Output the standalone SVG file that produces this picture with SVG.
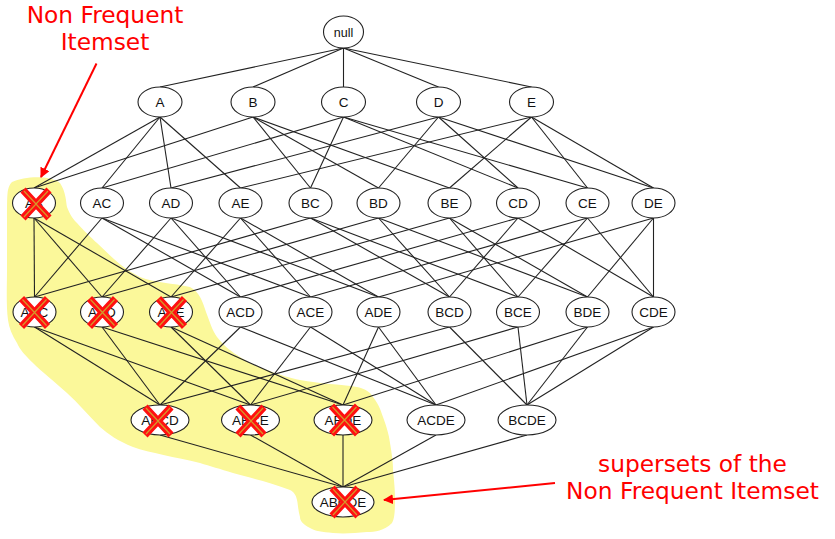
<svg xmlns="http://www.w3.org/2000/svg" xmlns:xlink="http://www.w3.org/1999/xlink" width="835" height="539" viewBox="0 0 835 539">
<style>
.n ellipse{fill:#fff;stroke:#222;stroke-width:1.1}
.n text{font-family:"Liberation Sans",Arial,sans-serif;font-size:13.5px;fill:#111;text-anchor:middle}
#edges line{stroke:#222;stroke-width:1.1}
.ann{font-family:"DejaVu Sans",Verdana,sans-serif;font-size:23.3px;fill:#ff0000;text-anchor:middle}
.arr{stroke:#ff0000;stroke-width:2;fill:none}
</style>
<defs>
<marker id="ah" viewBox="0 0 10 10" refX="9" refY="5" markerWidth="5" markerHeight="5" orient="auto" markerUnits="strokeWidth">
<path d="M0,0 L10,5 L0,10 z" fill="#ff0000"/>
</marker>
<g id="x">
<path d="M-13,-14 L13,14 M13,-14 L-13,14" stroke="#ff1010" stroke-width="7" stroke-linecap="butt"/>
<path d="M-12,-13 L12,13 M12,-13 L-12,13" stroke="#d49a2a" stroke-width="1.2"/>
</g>
</defs>
<rect width="835" height="539" fill="#fff"/>
<path id="highlight" fill="#fbf89a" d="M12,182 C25,176 50,175 60,183 C66,192 66,202 67,207 C70,215 73,219 77,223 C85,232 97,243 97,243 C110,255 120,267 140,277 C155,283 173,283 190,287 C200,292 203,303 206,312 C210,322 212,330 217,337 C225,347 232,352 240,357 C250,364 258,367 267,370 C280,375 290,378 300,380 C320,384 340,384 357,387 C366,389 370,392 373,397 C380,406 381,412 383,417 C387,428 389,435 390,443 C392,455 393,463 393,470 C394,480 395,490 395,497 C395,508 395,518 392,523 C384,531 375,532 367,532 C355,533 345,534 333,533 C322,532 315,531 310,528 C302,524 300,520 300,517 C298,510 298,504 297,500 C296,495 294,492 290,490 C270,482 250,478 233,473 C220,469 210,466 200,463 C175,457 150,453 133,447 C118,441 108,434 100,427 C88,415 78,403 67,393 C55,382 42,372 33,363 C25,355 20,350 17,343 C12,335 9,328 8,320 C6,305 7,285 7,270 C7,250 7,235 7,220 C7,205 7,195 8,190 C9,186 10,184 12,182 Z"/>
<g id="edges">
<line x1="343.5" y1="48" x2="160" y2="87"/><line x1="343.5" y1="48" x2="253" y2="87"/><line x1="343.5" y1="48" x2="343.5" y2="87"/><line x1="343.5" y1="48" x2="438.5" y2="87"/><line x1="343.5" y1="48" x2="531.5" y2="87"/>
<line x1="160" y1="117" x2="34" y2="188"/><line x1="160" y1="117" x2="102" y2="188"/><line x1="160" y1="117" x2="171" y2="188"/><line x1="160" y1="117" x2="240.5" y2="188"/>
<line x1="253" y1="117" x2="34" y2="188"/><line x1="253" y1="117" x2="310.5" y2="188"/><line x1="253" y1="117" x2="378.5" y2="188"/><line x1="253" y1="117" x2="449.5" y2="188"/>
<line x1="343.5" y1="117" x2="102" y2="188"/><line x1="343.5" y1="117" x2="310.5" y2="188"/><line x1="343.5" y1="117" x2="518" y2="188"/><line x1="343.5" y1="117" x2="587.5" y2="188"/>
<line x1="438.5" y1="117" x2="171" y2="188"/><line x1="438.5" y1="117" x2="378.5" y2="188"/><line x1="438.5" y1="117" x2="518" y2="188"/><line x1="438.5" y1="117" x2="653.5" y2="188"/>
<line x1="531.5" y1="117" x2="240.5" y2="188"/><line x1="531.5" y1="117" x2="449.5" y2="188"/><line x1="531.5" y1="117" x2="587.5" y2="188"/><line x1="531.5" y1="117" x2="653.5" y2="188"/>
<line x1="34" y1="218" x2="34.5" y2="297"/><line x1="34" y1="218" x2="102" y2="297"/><line x1="34" y1="218" x2="171" y2="297"/>
<line x1="102" y1="218" x2="34.5" y2="297"/><line x1="102" y1="218" x2="240.5" y2="297"/><line x1="102" y1="218" x2="310.5" y2="297"/>
<line x1="171" y1="218" x2="102" y2="297"/><line x1="171" y1="218" x2="240.5" y2="297"/><line x1="171" y1="218" x2="378.5" y2="297"/>
<line x1="240.5" y1="218" x2="171" y2="297"/><line x1="240.5" y1="218" x2="310.5" y2="297"/><line x1="240.5" y1="218" x2="378.5" y2="297"/>
<line x1="310.5" y1="218" x2="34.5" y2="297"/><line x1="310.5" y1="218" x2="449.5" y2="297"/><line x1="310.5" y1="218" x2="518" y2="297"/>
<line x1="378.5" y1="218" x2="102" y2="297"/><line x1="378.5" y1="218" x2="449.5" y2="297"/><line x1="378.5" y1="218" x2="587.5" y2="297"/>
<line x1="449.5" y1="218" x2="171" y2="297"/><line x1="449.5" y1="218" x2="518" y2="297"/><line x1="449.5" y1="218" x2="587.5" y2="297"/>
<line x1="518" y1="218" x2="240.5" y2="297"/><line x1="518" y1="218" x2="449.5" y2="297"/><line x1="518" y1="218" x2="653.5" y2="297"/>
<line x1="587.5" y1="218" x2="310.5" y2="297"/><line x1="587.5" y1="218" x2="518" y2="297"/><line x1="587.5" y1="218" x2="653.5" y2="297"/>
<line x1="653.5" y1="218" x2="378.5" y2="297"/><line x1="653.5" y1="218" x2="587.5" y2="297"/><line x1="653.5" y1="218" x2="653.5" y2="297"/>
<line x1="34.5" y1="327" x2="160" y2="405"/><line x1="34.5" y1="327" x2="250.5" y2="405"/>
<line x1="102" y1="327" x2="160" y2="405"/><line x1="102" y1="327" x2="343" y2="405"/>
<line x1="171" y1="327" x2="250.5" y2="405"/><line x1="171" y1="327" x2="343" y2="405"/>
<line x1="240.5" y1="327" x2="160" y2="405"/><line x1="240.5" y1="327" x2="436" y2="405"/>
<line x1="310.5" y1="327" x2="250.5" y2="405"/><line x1="310.5" y1="327" x2="436" y2="405"/>
<line x1="378.5" y1="327" x2="343" y2="405"/><line x1="378.5" y1="327" x2="436" y2="405"/>
<line x1="449.5" y1="327" x2="160" y2="405"/><line x1="449.5" y1="327" x2="527" y2="405"/>
<line x1="518" y1="327" x2="250.5" y2="405"/><line x1="518" y1="327" x2="527" y2="405"/>
<line x1="587.5" y1="327" x2="343" y2="405"/><line x1="587.5" y1="327" x2="527" y2="405"/>
<line x1="653.5" y1="327" x2="436" y2="405"/><line x1="653.5" y1="327" x2="527" y2="405"/>
<line x1="160" y1="435" x2="343" y2="487"/><line x1="250.5" y1="435" x2="343" y2="487"/><line x1="343" y1="435" x2="343" y2="487"/><line x1="436" y1="435" x2="343" y2="487"/><line x1="527" y1="435" x2="343" y2="487"/>
</g>
<g id="node-null" class="n"><ellipse cx="343.5" cy="32" rx="20" ry="16"/><text x="343.5" y="36.5" style="font-size:12.5px">null</text></g>
<g id="node-A" class="n"><ellipse cx="160" cy="102" rx="22" ry="15"/><text x="160" y="107">A</text></g>
<g id="node-B" class="n"><ellipse cx="253" cy="102" rx="22" ry="15"/><text x="253" y="107">B</text></g>
<g id="node-C" class="n"><ellipse cx="343.5" cy="102" rx="22" ry="15"/><text x="343.5" y="107">C</text></g>
<g id="node-D" class="n"><ellipse cx="438.5" cy="102" rx="22" ry="15"/><text x="438.5" y="107">D</text></g>
<g id="node-E" class="n"><ellipse cx="531.5" cy="102" rx="22" ry="15"/><text x="531.5" y="107">E</text></g>
<g id="node-AB" class="n"><ellipse cx="34" cy="203" rx="21.5" ry="15"/><text x="34" y="208">AB</text></g>
<g id="node-AC" class="n"><ellipse cx="102" cy="203" rx="21.5" ry="15"/><text x="102" y="208">AC</text></g>
<g id="node-AD" class="n"><ellipse cx="171" cy="203" rx="21.5" ry="15"/><text x="171" y="208">AD</text></g>
<g id="node-AE" class="n"><ellipse cx="240.5" cy="203" rx="21.5" ry="15"/><text x="240.5" y="208">AE</text></g>
<g id="node-BC" class="n"><ellipse cx="310.5" cy="203" rx="21.5" ry="15"/><text x="310.5" y="208">BC</text></g>
<g id="node-BD" class="n"><ellipse cx="378.5" cy="203" rx="21.5" ry="15"/><text x="378.5" y="208">BD</text></g>
<g id="node-BE" class="n"><ellipse cx="449.5" cy="203" rx="21.5" ry="15"/><text x="449.5" y="208">BE</text></g>
<g id="node-CD" class="n"><ellipse cx="518" cy="203" rx="21.5" ry="15"/><text x="518" y="208">CD</text></g>
<g id="node-CE" class="n"><ellipse cx="587.5" cy="203" rx="21.5" ry="15"/><text x="587.5" y="208">CE</text></g>
<g id="node-DE" class="n"><ellipse cx="653.5" cy="203" rx="21.5" ry="15"/><text x="653.5" y="208">DE</text></g>
<g id="node-ABC" class="n"><ellipse cx="34.5" cy="312" rx="21.5" ry="15"/><text x="34.5" y="317">ABC</text></g>
<g id="node-ABD" class="n"><ellipse cx="102" cy="312" rx="21.5" ry="15"/><text x="102" y="317">ABD</text></g>
<g id="node-ABE" class="n"><ellipse cx="171" cy="312" rx="21.5" ry="15"/><text x="171" y="317">ABE</text></g>
<g id="node-ACD" class="n"><ellipse cx="240.5" cy="312" rx="21.5" ry="15"/><text x="240.5" y="317">ACD</text></g>
<g id="node-ACE" class="n"><ellipse cx="310.5" cy="312" rx="21.5" ry="15"/><text x="310.5" y="317">ACE</text></g>
<g id="node-ADE" class="n"><ellipse cx="378.5" cy="312" rx="21.5" ry="15"/><text x="378.5" y="317">ADE</text></g>
<g id="node-BCD" class="n"><ellipse cx="449.5" cy="312" rx="21.5" ry="15"/><text x="449.5" y="317">BCD</text></g>
<g id="node-BCE" class="n"><ellipse cx="518" cy="312" rx="21.5" ry="15"/><text x="518" y="317">BCE</text></g>
<g id="node-BDE" class="n"><ellipse cx="587.5" cy="312" rx="21.5" ry="15"/><text x="587.5" y="317">BDE</text></g>
<g id="node-CDE" class="n"><ellipse cx="653.5" cy="312" rx="21.5" ry="15"/><text x="653.5" y="317">CDE</text></g>
<g id="node-ABCD" class="n"><ellipse cx="160" cy="420" rx="29" ry="15"/><text x="160" y="425">ABCD</text></g>
<g id="node-ABCE" class="n"><ellipse cx="250.5" cy="420" rx="29" ry="15"/><text x="250.5" y="425">ABCE</text></g>
<g id="node-ABDE" class="n"><ellipse cx="343" cy="420" rx="29" ry="15"/><text x="343" y="425">ABDE</text></g>
<g id="node-ACDE" class="n"><ellipse cx="436" cy="420" rx="29" ry="15"/><text x="436" y="425">ACDE</text></g>
<g id="node-BCDE" class="n"><ellipse cx="527" cy="420" rx="29" ry="15"/><text x="527" y="425">BCDE</text></g>
<g id="node-ABCDE" class="n"><ellipse cx="343" cy="502" rx="31" ry="15"/><text x="343" y="507">ABCDE</text></g>
<g id="crosses">
<use xlink:href="#x" href="#x" transform="translate(36,204)"/>
<use xlink:href="#x" href="#x" transform="translate(34.5,312.5)"/>
<use xlink:href="#x" href="#x" transform="translate(102.5,312.5)"/>
<use xlink:href="#x" href="#x" transform="translate(171.5,312.5)"/>
<use xlink:href="#x" href="#x" transform="translate(158,421)"/>
<use xlink:href="#x" href="#x" transform="translate(251,421)"/>
<use xlink:href="#x" href="#x" transform="translate(344.5,420)"/>
<use xlink:href="#x" href="#x" transform="translate(345,502)"/>
</g>
<g id="annotations">
<text class="ann" x="105" y="23">Non Frequent</text>
<text class="ann" x="105" y="50">Itemset</text>
<line class="arr" x1="96.5" y1="63.5" x2="41" y2="177" marker-end="url(#ah)"/>
<text class="ann" x="692.5" y="472">supersets of the</text>
<text class="ann" x="692.5" y="499">Non Frequent Itemset</text>
<line class="arr" x1="555" y1="483" x2="384" y2="500" marker-end="url(#ah)"/>
</g>
</svg>
